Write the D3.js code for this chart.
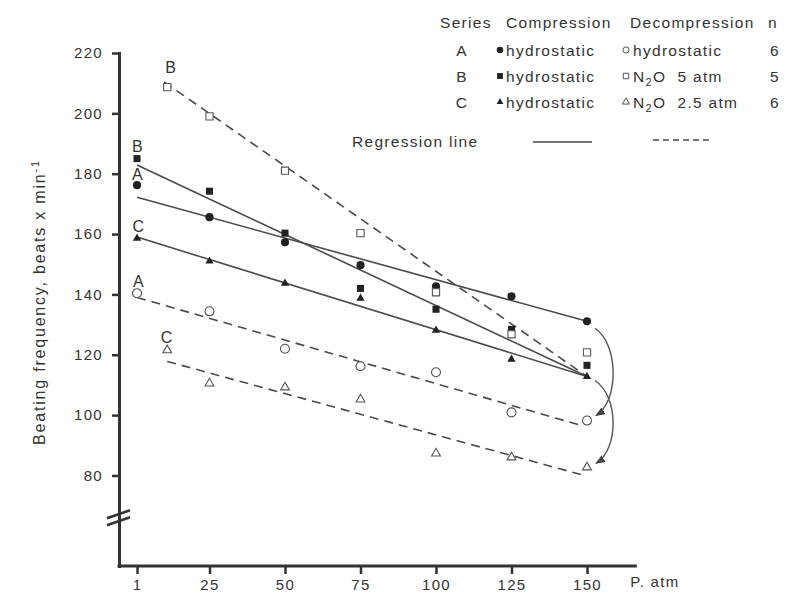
<!DOCTYPE html>
<html>
<head>
<meta charset="utf-8">
<script src="https://cdn.jsdelivr.net/npm/d3@7"></script>
<style>
  body { margin: 0; background: #fff; }
  text { font-family: "Liberation Sans", Arial, Helvetica, sans-serif; fill: #333; letter-spacing: 1.3px; }
</style>
</head>
<body>
<svg id="chart" width="788" height="594"></svg>
<script>
// ── Data ─────────────────────────────────────────────────────────────────────
const pressures = [1, 25, 50, 75, 100, 125, 150];          // atm, compression + A decompression
const pressuresN2O = [11, 25, 50, 75, 100, 125, 150];      // B and C decompression start near 10 atm
const yTicks = [80, 100, 120, 140, 160, 180, 200, 220];

// beats x min-1
const compA   = [176.2, 165.6, 157.3, 149.7, 142.7, 139.4, 131.1];
const compB   = [185.0, 174.2, 160.3, 142.0, 135.1, 128.4, 116.5];
const compC   = [158.6, 151.0, 143.7, 138.7, 128.1, 118.5, 112.8];
const decompA = [140.4, 134.4, 122.0, 116.2, 114.2, 100.9, 98.2];
const decompB = [208.7, 199.0, 181.0, 160.3, 140.7, 126.8, 120.8];
const decompC = [121.5, 110.5, 109.2, 105.2, 87.3, 86.0, 82.7];

// regression line end points [atm, beats]
const regCompA   = [[1, 172.2], [150, 131.1]];
const regCompB   = [[1, 182.9], [150, 112.8]];
const regCompC   = [[1, 159.0], [150, 112.8]];
const regDecompA = [[1, 139.0], [148, 96.6]];
const regDecompB = [[10, 210.4], [150, 112.8]];
const regDecompC = [[11, 117.8], [148, 80.3]];

const legendRows = ['A', 'B', 'C'];
const legendN = [6, 5, 6];

// ── Scales / axes ────────────────────────────────────────────────────────────
const svg = d3.select('#chart');
const x = d3.scaleLinear().domain([0, 150]).range([134, 587]);
const y = d3.scaleLinear().domain([50, 220]).range([566, 53]);
const axisLeftX = 119;
const ink = '#333';

const gy = svg.append('g')
  .attr('transform', `translate(${axisLeftX},0)`)
  .call(d3.axisLeft(y).tickValues(yTicks).tickSize(7).tickSizeOuter(0).tickPadding(9));
gy.select('.domain').attr('stroke', ink).attr('stroke-width', 3).attr('stroke-linecap', 'square');
gy.selectAll('.tick line').attr('stroke', ink).attr('stroke-width', 2.5);
gy.selectAll('.tick text').attr('font-size', 15).attr('fill', '#3a3a3a').style('font-family', null);

const gx = svg.append('g')
  .attr('transform', `translate(0,${y(50)})`)
  .call(d3.axisBottom(x).tickValues(pressures).tickSize(8).tickPadding(5));
gx.select('.domain').remove();
gx.selectAll('.tick line').attr('stroke', ink).attr('stroke-width', 2.5);
gx.selectAll('.tick text').attr('font-size', 15).attr('fill', '#3a3a3a').style('font-family', null);
svg.append('line')
  .attr('x1', axisLeftX).attr('x2', x(166))
  .attr('y1', y(50)).attr('y2', y(50))
  .attr('stroke', ink).attr('stroke-width', 3).attr('stroke-linecap', 'square');

svg.append('text')
  .attr('x', x(166) - 5).attr('y', y(50) + 21)
  .attr('font-size', 15).attr('fill', '#3a3a3a')
  .text('P. atm');

// axis break
const yb = y(66);
[-3.5, 3.5].forEach(off => {
  svg.append('line')
    .attr('x1', axisLeftX - 12).attr('y1', yb + off + 4)
    .attr('x2', axisLeftX + 11).attr('y2', yb + off - 4)
    .attr('stroke', ink).attr('stroke-width', 2.5);
});

// y title
const yTitle = svg.append('text')
  .attr('transform', 'translate(45,302) rotate(-90)')
  .attr('text-anchor', 'middle')
  .attr('font-size', 16).attr('fill', '#3a3a3a')
  .style('letter-spacing', '1.8px');
yTitle.append('tspan').text('Beating frequency, beats x min');
yTitle.append('tspan').attr('baseline-shift', 'super').attr('font-size', 11).text('-1');

// ── Regression lines ─────────────────────────────────────────────────────────
const line = d3.line().x(d => x(d[0])).y(d => y(d[1]));
const lineColor = '#4a4a4a';

[regCompA, regCompB, regCompC].forEach(r => {
  svg.append('path').attr('d', line(r))
    .attr('fill', 'none').attr('stroke', lineColor).attr('stroke-width', 1.6);
});
[regDecompA, regDecompB, regDecompC].forEach(r => {
  svg.append('path').attr('d', line(r))
    .attr('fill', 'none').attr('stroke', lineColor).attr('stroke-width', 1.6)
    .attr('stroke-dasharray', '9,6');
});

// ── Curved arrows (compression end -> decompression end) ────────────────────
svg.append('defs').append('marker')
  .attr('id', 'arrow').attr('viewBox', '0 0 10 10')
  .attr('refX', 9).attr('refY', 5)
  .attr('markerWidth', 7).attr('markerHeight', 7)
  .attr('orient', 'auto')
  .append('path').attr('d', 'M0,1L10,5L0,9Z').attr('fill', '#444');

function arc(v0, v1, dy0, dy1) {
  const sx = x(150) + 8, sy = y(v0) + dy0;
  const ex = x(150) + 9, ey = y(v1) + dy1;
  return `M${sx},${sy} C${sx + 24},${sy + 16} ${sx + 24},${ey - 14} ${ex},${ey}`;
}
svg.append('path').attr('d', arc(compA[6], decompA[6], 7, -5))
  .attr('fill', 'none').attr('stroke', '#555').attr('stroke-width', 1.4)
  .attr('marker-end', 'url(#arrow)');
svg.append('path').attr('d', arc(compC[6], decompC[6], 4, -4))
  .attr('fill', 'none').attr('stroke', '#555').attr('stroke-width', 1.4)
  .attr('marker-end', 'url(#arrow)');

// ── Points ───────────────────────────────────────────────────────────────────
const dot = '#222';
const series = [
  { xs: pressures,    vs: compA,   type: d3.symbolCircle,   size: 52, open: false },
  { xs: pressures,    vs: compB,   type: d3.symbolSquare,   size: 50, open: false },
  { xs: pressures,    vs: compC,   type: d3.symbolTriangle, size: 30, open: false },
  { xs: pressures,    vs: decompA, type: d3.symbolCircle,   size: 64, open: true },
  { xs: pressuresN2O, vs: decompB, type: d3.symbolSquare,   size: 52, open: true },
  { xs: pressuresN2O, vs: decompC, type: d3.symbolTriangle, size: 34, open: true }
];
series.forEach(s => {
  svg.append('g').selectAll('path')
    .data(s.vs.map((v, i) => [s.xs[i], v]))
    .join('path')
    .attr('transform', d => `translate(${x(d[0])},${y(d[1])})`)
    .attr('d', d3.symbol().type(s.type).size(s.size))
    .attr('fill', s.open ? '#fff' : dot)
    .attr('stroke', s.open ? '#555' : 'none')
    .attr('stroke-width', 1.1);
});

// series letters next to first points
const tags = [
  { t: 'B', xs: pressuresN2O, vs: decompB, dx: 4, dy: -20 },
  { t: 'B', xs: pressures,    vs: compB,   dx: 1, dy: -12 },
  { t: 'A', xs: pressures,    vs: compA,   dx: 1, dy: -11 },
  { t: 'C', xs: pressures,    vs: compC,   dx: 2, dy: -12 },
  { t: 'A', xs: pressures,    vs: decompA, dx: 2, dy: -12 },
  { t: 'C', xs: pressuresN2O, vs: decompC, dx: 0, dy: -13 }
];
tags.forEach(g => {
  svg.append('text')
    .attr('x', x(g.xs[0]) + g.dx).attr('y', y(g.vs[0]) + g.dy)
    .attr('text-anchor', 'middle').attr('dominant-baseline', 'central')
    .attr('font-size', 16).attr('fill', '#3a3a3a')
    .text(g.t);
});

// ── Legend ───────────────────────────────────────────────────────────────────
const lg = svg.append('g').attr('font-size', 15.5);
const head = [['Series', 440], ['Compression', 506], ['Decompression', 630], ['n', 768]];
head.forEach(h => {
  lg.append('text').attr('x', h[1]).attr('y', 22)
    .attr('dominant-baseline', 'central').text(h[0]);
});

const compSymbols = [d3.symbolCircle, d3.symbolSquare, d3.symbolTriangle];
const rowY = [50, 76, 102];
legendRows.forEach((r, i) => {
  const ry = rowY[i];
  lg.append('text').attr('x', 462).attr('y', ry).attr('text-anchor', 'middle')
    .attr('dominant-baseline', 'central').text(r);
  lg.append('path').attr('transform', `translate(500,${ry})`)
    .attr('d', d3.symbol().type(compSymbols[i]).size(i === 2 ? 20 : 34))
    .attr('fill', dot);
  lg.append('text').attr('x', 506).attr('y', ry)
    .attr('dominant-baseline', 'central').text('hydrostatic');
  lg.append('path').attr('transform', `translate(626,${ry})`)
    .attr('d', d3.symbol().type(compSymbols[i]).size(i === 2 ? 22 : 30))
    .attr('fill', '#fff').attr('stroke', '#555').attr('stroke-width', 1);
  const t = lg.append('text').attr('x', 633).attr('y', ry).attr('dominant-baseline', 'central');
  if (i === 0) {
    t.text('hydrostatic');
  } else {
    t.append('tspan').text('N');
    t.append('tspan').attr('baseline-shift', 'sub').attr('font-size', 11).text('2');
    t.append('tspan').text(i === 1 ? 'O  5 atm' : 'O  2.5 atm').style('white-space', 'pre');
  }
  lg.append('text').attr('x', 775).attr('y', ry).attr('text-anchor', 'middle')
    .attr('dominant-baseline', 'central').text(legendN[i]);
});

lg.append('text').attr('x', 352).attr('y', 141)
  .attr('dominant-baseline', 'central').text('Regression line');
lg.append('line').attr('x1', 533).attr('x2', 592).attr('y1', 142).attr('y2', 142)
  .attr('stroke', lineColor).attr('stroke-width', 1.5);
lg.append('line').attr('x1', 653).attr('x2', 712).attr('y1', 140).attr('y2', 140)
  .attr('stroke', lineColor).attr('stroke-width', 1.5).attr('stroke-dasharray', '6,4');
</script>
</body>
</html>
